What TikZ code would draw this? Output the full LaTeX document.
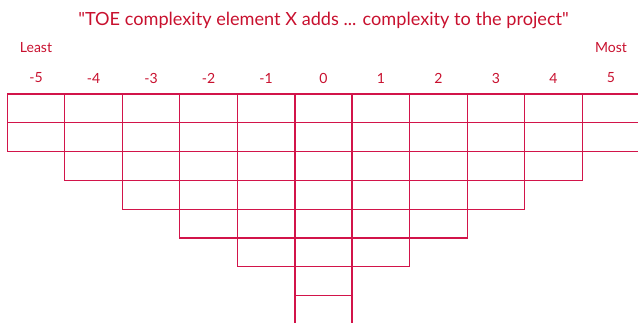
\documentclass[tikz,border=0pt]{standalone}
\usepackage{fontspec}
\setmainfont{Lato}[Ligatures=TeXOff]
\usepackage{xcolor}
\definecolor{gridc}{HTML}{D2144A}
\definecolor{textc}{HTML}{C8102E}

\begin{document}
\begin{tikzpicture}[x=0.75pt,y=-0.75pt]
  \useasboundingbox (0,0) rectangle (638,323);
  \clip (0,0) rectangle (638,323);

  % ==========================================================
  %                     PARAMETERS
  % ==========================================================
  \def\xMid{323.5}     % centre of the 0 column (px)
  \def\colW{57.5}      % column width (px)
  \def\yTop{94}        % top edge of the grid (px)
  \def\rowH{28.8}      % row height (px)

  \tikzset{
    cell/.style={draw=gridc, line width=0.8pt},
    axis/.style={draw=gridc, line width=1.6pt},
    lab/.style={text=textc, font=\fontsize{10.5}{12}\selectfont, inner sep=0pt},
    ttl/.style={text=textc, font=\fontsize{13.6}{16}\selectfont, inner sep=0pt}
  }

  % ==========================================================
  %                     TEXT
  % ==========================================================
  \node[ttl] (title) at (\xMid,20) {"TOE complexity element X adds ... complexity to the project"};
  \node[lab] (least) at ({\xMid-5*\colW},48) {Least};
  \node[lab] (most)  at ({\xMid+5*\colW},48) {Most};
  \foreach \c in {-5,...,5}
    \node[lab] (col\c) at ({\xMid+\c*\colW},78) {\c};

  % ==========================================================
  %                     STEPPED GRID
  % ==========================================================
  % row / half-width in columns
  \foreach \r/\k in {0/5,1/5,2/4,3/3,4/2,5/1,6/0,7/0} {
    \foreach \c in {-\k,...,\k} {
      \draw[cell] ({\xMid+(\c-0.5)*\colW},{\yTop+\r*\rowH}) rectangle +(\colW,\rowH);
    }
  }

  % thick sides of the 0 column
  \draw[axis] ({\xMid-0.5*\colW},\yTop) -- ++(0,{8*\rowH});
  \draw[axis] ({\xMid+0.5*\colW},\yTop) -- ++(0,{8*\rowH});

\end{tikzpicture}
\end{document}
